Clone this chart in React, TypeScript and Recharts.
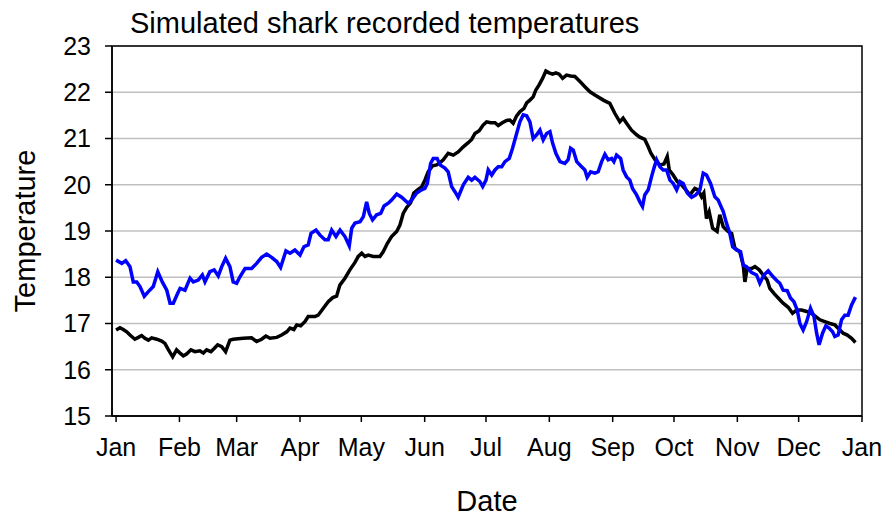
import { LineChart, Line, XAxis, YAxis, CartesianGrid, ReferenceArea } from 'recharts';

// day of year (0 = Jan 1) and temperatures
const blueDays = [
  0, 2.8, 4.7, 6.8, 8.4, 10.1, 11.7, 13.8, 15.8, 18.2, 20.4, 22.6, 24.8, 26.4, 28, 30.1, 31.3, 33.7, 36.2, 37.8,
  40.2, 42.2, 43.5, 45.9, 48, 50, 51.7, 53.6, 55.7, 57.3, 59, 60.6, 63.1, 66.3, 68.8, 71.2, 73.7, 76.1, 78.6, 80.5,
  83.1, 85.1, 87.5, 90, 91.9, 94, 95.4, 97.8, 99.8, 102.2, 103.8, 105.5, 107.6, 109.6, 112, 114.1, 115.3, 116.9, 119.4, 121,
  122.6, 123.9, 125.5, 127.5, 129.5, 131.1, 133.2, 134.8, 137.3, 139.7, 143, 144.6, 147.1, 149.5, 151.1, 152.3, 153.9, 155.2, 157.1, 158.5,
  160.9, 162.5, 164.2, 165.8, 167.4, 169.9, 172.3, 174, 175.6, 178, 179.4, 181, 182.1, 183.8, 185.4, 187, 188.7, 190.3, 192.4, 194,
  196, 197.6, 199.2, 200.9, 202.5, 204.1, 205.8, 207.4, 209, 210.7, 212.3, 213.6, 215.2, 217.2, 219.6, 221.2, 222.4, 223.7, 225.4, 227.8,
  229.4, 230.5, 232.2, 234.3, 235.9, 237.6, 239.2, 240.8, 242.5, 243.6, 244.9, 246.9, 248.1, 249.8, 251.4, 252.7, 254.7, 256.3, 257.6, 258.7,
  260.4, 262, 263.2, 264.5, 266.1, 267.7, 269.4, 271, 272.6, 274.3, 275.9, 277.5, 279.5, 281.6, 283.7, 285.7, 287.3, 288.9, 290.9, 293,
  294.6, 297.1, 298.7, 300.3, 301.7, 303.6, 305.6, 306.9, 308.5, 309.8, 311, 313.4, 315, 317, 319.1, 321.5, 323.5, 324.8, 326.4, 328.4,
  330, 331.7, 333.3, 334.6, 336.2, 337.9, 339.8, 341.5, 342.8, 344, 345.7, 347.3, 348.9, 350.6, 351.7, 353.3, 355, 356.6, 358.2, 359.9,
  361.8,
];
const blueTemps = [
  18.37, 18.3, 18.36, 18.23, 17.9, 17.9, 17.8, 17.59, 17.69, 17.8, 18.12, 17.9, 17.72, 17.44, 17.44, 17.65, 17.76, 17.72, 17.98, 17.9,
  17.94, 18.05, 17.9, 18.12, 18.16, 18.03, 18.23, 18.41, 18.23, 17.9, 17.87, 18.01, 18.19, 18.19, 18.3, 18.43, 18.5, 18.43, 18.34, 18.21,
  18.57, 18.52, 18.59, 18.48, 18.66, 18.7, 18.95, 19.02, 18.91, 18.81, 18.81, 19.02, 18.88, 19.02, 18.88, 18.68, 19.06, 19.17, 19.2, 19.31,
  19.63, 19.38, 19.24, 19.35, 19.38, 19.54, 19.6, 19.67, 19.8, 19.73, 19.6, 19.67, 19.82, 19.89, 19.92, 20.03, 20.46, 20.57, 20.57, 20.43,
  20.36, 20.28, 19.96, 19.85, 19.73, 20.0, 20.16, 20.1, 20.16, 20.07, 19.96, 20.1, 20.32, 20.21, 20.32, 20.39, 20.39, 20.5, 20.57, 20.79,
  21.11, 21.36, 21.51, 21.49, 21.36, 21.0, 21.08, 21.18, 20.97, 21.11, 21.15, 20.9, 20.68, 20.5, 20.46, 20.54, 20.79, 20.75, 20.5, 20.39,
  20.32, 20.16, 20.28, 20.25, 20.28, 20.5, 20.66, 20.54, 20.57, 20.5, 20.64, 20.57, 20.32, 20.17, 20.1, 19.92, 19.78, 19.63, 19.53, 19.78,
  19.89, 20.17, 20.36, 20.54, 20.39, 20.32, 20.32, 20.1, 20.03, 19.89, 20.07, 20.03, 19.82, 19.73, 19.78, 19.89, 20.25, 20.21, 20.03, 19.74,
  19.67, 19.42, 19.17, 18.95, 18.66, 18.59, 18.55, 18.26, 18.23, 18.16, 18.1, 18.05, 17.87, 18.05, 18.14, 18.01, 17.92, 17.87, 17.72, 17.71,
  17.55, 17.47, 17.29, 17.0, 16.86, 17.04, 17.33, 17.15, 16.79, 16.54, 16.79, 16.95, 16.9, 16.82, 16.72, 16.75, 17.08, 17.18, 17.18, 17.4,
  17.57,
];

const blackDays = [
  0, 1.9, 3.5, 5.2, 6.8, 9.2, 10.9, 12.5, 14.1, 15.8, 17.4, 19.9, 22.3, 23.9, 25.5, 27.7, 29.6, 31.3, 32.9, 34.5,
  36.6, 38.6, 41, 42.7, 44.3, 46.4, 48, 49.7, 51.7, 53.6, 55.7, 57.3, 62.2, 66.3, 68.8, 71.2, 73.3, 75.3, 78.6, 81,
  83.5, 85.1, 87, 88.4, 90.3, 92.4, 94, 97.3, 98.9, 101.4, 103.8, 106, 107.9, 109.5, 112, 114.4, 116.9, 118.5, 120.2, 121.8,
  123.4, 125.8, 129.1, 130.7, 132.7, 134.8, 137.3, 138.9, 140.5, 142.2, 144.1, 145.7, 147.8, 149.5, 151.1, 152.7, 154.9, 156.9, 158.5, 160.1,
  162.5, 165, 167.4, 169.9, 172.3, 174, 175.6, 177.7, 179.6, 181.3, 183.3, 185.4, 187, 189, 191.1, 192.7, 194.3, 196, 197.6, 199.6,
  200.9, 202.5, 204.1, 205.4, 207, 208.7, 210.3, 211.9, 213.6, 215.2, 216.8, 218.5, 220.4, 222.4, 224.5, 227, 229.4, 231.9, 234.3, 238.4,
  241.6, 244.1, 246.5, 248.1, 249.8, 252.2, 254.7, 256.3, 258.7, 260.4, 261.7, 263.7, 266.1, 268.1, 269.7, 270.7, 272.6, 274.6, 276.7, 278.8,
  280.8, 283.2, 284.8, 286.5, 287.6, 288.9, 290.2, 291.9, 294.1, 295.4, 297.1, 299.5, 301.2, 302.8, 305.2, 306.9, 307.7, 308.8, 311, 312.6,
  314.7, 316.6, 318.6, 319.9, 321.9, 324, 326.4, 328.9, 331, 333, 335.4, 337.9, 340.3, 342.4, 344.4, 346.8, 349.3, 351.7, 354.2, 355.8,
  357.8, 359.9, 361.8,
];
const blackTemps = [
  16.86, 16.91, 16.87, 16.82, 16.75, 16.66, 16.7, 16.74, 16.68, 16.64, 16.69, 16.66, 16.62, 16.57, 16.44, 16.28, 16.43, 16.36, 16.3, 16.34,
  16.43, 16.39, 16.41, 16.36, 16.43, 16.39, 16.46, 16.54, 16.5, 16.39, 16.64, 16.66, 16.68, 16.69, 16.61, 16.66, 16.73, 16.68, 16.7, 16.75,
  16.82, 16.9, 16.87, 16.97, 16.95, 17.04, 17.15, 17.15, 17.18, 17.33, 17.47, 17.56, 17.59, 17.83, 17.98, 18.16, 18.32, 18.45, 18.52, 18.45,
  18.48, 18.45, 18.45, 18.55, 18.73, 18.88, 18.99, 19.13, 19.38, 19.51, 19.61, 19.82, 19.9, 19.95, 20.1, 20.28, 20.41, 20.43, 20.48, 20.54,
  20.68, 20.64, 20.71, 20.82, 20.91, 20.98, 21.11, 21.17, 21.29, 21.36, 21.34, 21.34, 21.28, 21.34, 21.39, 21.4, 21.33, 21.49, 21.58, 21.65,
  21.77, 21.83, 21.9, 22.05, 22.16, 22.3, 22.46, 22.42, 22.39, 22.42, 22.39, 22.3, 22.37, 22.35, 22.34, 22.23, 22.12, 22.01, 21.94, 21.83,
  21.76, 21.54, 21.36, 21.44, 21.33, 21.18, 21.08, 21.03, 20.98, 20.82, 20.68, 20.54, 20.43, 20.45, 20.61, 20.32, 20.21, 20.07, 20.0, 19.89,
  19.78, 19.92, 19.89, 19.74, 19.82, 19.27, 19.42, 19.06, 18.99, 19.35, 19.09, 18.99, 18.95, 18.63, 18.55, 18.26, 17.9, 18.19, 18.19, 18.23,
  18.16, 18.05, 17.94, 17.76, 17.65, 17.55, 17.44, 17.35, 17.22, 17.29, 17.29, 17.26, 17.22, 17.15, 17.08, 17.04, 17.0, 16.97, 16.86, 16.79,
  16.75, 16.68, 16.59,
];

const monthStarts = [0, 31, 59, 90, 120, 151, 181, 212, 243, 273, 304, 334, 365];
const monthLabels = ['Jan', 'Feb', 'Mar', 'Apr', 'May', 'Jun', 'Jul', 'Aug', 'Sep', 'Oct', 'Nov', 'Dec', 'Jan'];
const tempTicks = [15, 16, 17, 18, 19, 20, 21, 22, 23];

const blueData = blueDays.map((day, i) => ({ day, temp: blueTemps[i] }));
const blackData = blackDays.map((day, i) => ({ day, temp: blackTemps[i] }));

const font = '"Liberation Sans", Arial, sans-serif';

export default function App() {
  return (
    <div style={{ position: 'relative', width: 881, height: 518, fontFamily: font, background: '#fff' }}>
      <style>{'body{margin:0;overflow:hidden}'}</style>
      <div style={{ position: 'absolute', left: 130, top: 9, fontSize: 29, lineHeight: '29px', color: '#000', whiteSpace: 'nowrap' }}>
        Simulated shark recorded temperatures
      </div>
      <LineChart width={881} height={518} margin={{ top: 46, right: 19, bottom: 0, left: 0 }}>
        <CartesianGrid vertical={false} stroke="#c0c0c0" strokeWidth={1.5} />
        <XAxis
          type="number"
          dataKey="day"
          domain={[-2, 365]}
          allowDataOverflow
          ticks={monthStarts}
          interval={0}
          tickFormatter={(v: number) => monthLabels[monthStarts.indexOf(v)]}
          height={102}
          tickSize={6}
          tickMargin={16}
          stroke="#000"
          strokeWidth={1.5}
          tick={{ fill: '#000', fontSize: 25, fontFamily: font }}
          label={{ value: 'Date', position: 'insideBottom', offset: 7, style: { fontSize: 29, fill: '#000', fontFamily: font } }}
        />
        <YAxis
          type="number"
          domain={[15, 23]}
          ticks={tempTicks}
          interval={0}
          width={112}
          tickSize={7}
          tickMargin={14}
          stroke="#000"
          strokeWidth={1.5}
          tick={{ fill: '#000', fontSize: 25, fontFamily: font }}
          label={{ value: 'Temperature', angle: -90, position: 'insideLeft', offset: 25, style: { textAnchor: 'middle', fontSize: 29, fill: '#000', fontFamily: font } }}
        />
        <ReferenceArea x1={-2} x2={365} y1={15} y2={23} fill="none" stroke="#000" strokeWidth={1.5} />
        <Line data={blackData} type="linear" dataKey="temp" stroke="#000000" strokeWidth={3.5} dot={false} isAnimationActive={false} />
        <Line data={blueData} type="linear" dataKey="temp" stroke="#0000ff" strokeWidth={3.5} dot={false} isAnimationActive={false} />
      </LineChart>
    </div>
  );
}
